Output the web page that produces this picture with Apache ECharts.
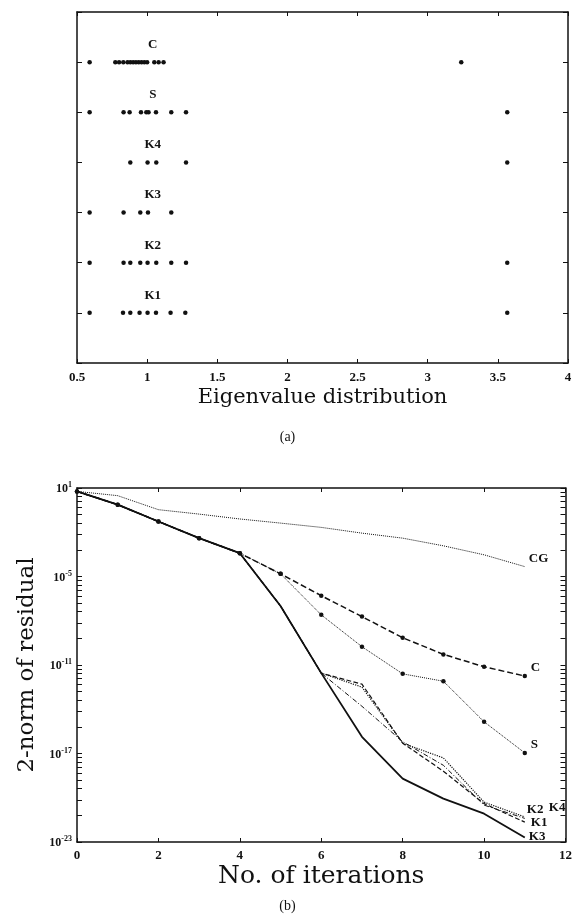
<!DOCTYPE html>
<html>
<head>
<meta charset="utf-8">
<script src="https://cdn.jsdelivr.net/npm/echarts@6/dist/echarts.min.js"></script>
<style>
  html, body { margin: 0; padding: 0; background: #fff; }
  #chartContainer { width: 575px; height: 920px; }
</style>
</head>
<body>
<div id="chartContainer"></div>
<script>
// (a) eigenvalue distribution, one row per preconditioner
const rowNames = ['C', 'S', 'K4', 'K3', 'K2', 'K1'];
const rowPos = [6, 5, 4, 3, 2, 1];
const eigC = [0.59, 0.773, 0.80, 0.83, 0.86, 0.88, 0.90, 0.92, 0.94, 0.96, 0.98, 1.00, 1.051, 1.082, 1.117, 3.239];
const eigS = [0.59, 0.832, 0.875, 0.956, 0.994, 1.01, 1.063, 1.172, 1.277, 3.567];
const eigK4 = [0.88, 1.003, 1.065, 1.277, 3.567];
const eigK3 = [0.59, 0.832, 0.951, 1.006, 1.172];
const eigK2 = [0.59, 0.832, 0.88, 0.951, 1.003, 1.065, 1.172, 1.277, 3.567];
const eigK1 = [0.59, 0.828, 0.88, 0.946, 1.003, 1.063, 1.167, 1.272, 3.567];
const eigXTicks = [0.5, 1, 1.5, 2, 2.5, 3, 3.5, 4];

// (b) log10 of the 2-norm of the residual per iteration
const iterations = [0, 1, 2, 3, 4, 5, 6, 7, 8, 9, 10, 11];
const resCG = [0.77, 0.48, -0.47, -0.77, -1.1, -1.38, -1.67, -2.06, -2.4, -2.92, -3.53, -4.33];
const resC  = [0.77, -0.13, -1.27, -2.4, -3.42, -4.82, -6.3, -7.72, -9.15, -10.28, -11.12, -11.75];
const resS  = [0.77, -0.13, -1.27, -2.4, -3.42, -4.82, -7.6, -9.76, -11.6, -12.1, -14.85, -16.96];
const resK3 = [0.77, -0.13, -1.27, -2.4, -3.42, -7.0, -11.55, -15.87, -18.7, -20.06, -21.08, -22.7];
const resK1 = [0.77, -0.13, -1.27, -2.4, -3.42, -7.0, -11.55, -12.3, -16.3, -18.2, -20.4, -21.65];
const resK2 = [0.77, -0.13, -1.27, -2.4, -3.42, -7.0, -11.55, -12.5, -16.3, -17.3, -20.3, -21.3];
const resK4 = [0.77, -0.13, -1.27, -2.4, -3.42, -7.0, -11.55, -13.8, -16.2, -17.8, -20.5, -21.4];
const resYLabels = [-23, -17, -11, -5, 1];

const ink = '#111';
const serif = 'DejaVu Serif';
const numFont = 'Liberation Serif';

// log ticks in steps of 10^6 (2x..9x within each step)
const resYTicks = [];
resYLabels.forEach((e, i) => {
    resYTicks.push(e);
    if (i < resYLabels.length - 1) {
        for (let k = 2; k <= 9; k++) resYTicks.push(e + 6 * Math.log10(k));
    }
});

const chart = echarts.init(document.getElementById('chartContainer'));

function rowSeries(vals, row) {
    return {
        type: 'scatter',
        xAxisIndex: 0, yAxisIndex: 0,
        symbolSize: 4.5,
        itemStyle: { color: ink, opacity: 1 },
        data: vals.map(v => [v, row]),
        silent: true
    };
}

function resSeries(name, vals, lineType, width, showSym, label, offset) {
    return {
        name,
        type: 'line',
        xAxisIndex: 2, yAxisIndex: 2,
        data: vals.map((v, i) => [iterations[i], v]),
        symbol: 'circle',
        showSymbol: showSym,
        symbolSize: 4.5,
        itemStyle: { color: ink, opacity: 1 },
        lineStyle: { color: ink, width, type: lineType },
        endLabel: label ? {
            show: true, formatter: label, offset: offset || [0, 0], distance: 4,
            color: ink, fontFamily: numFont, fontWeight: 'bold', fontSize: 13
        } : undefined,
        animation: false,
        silent: true
    };
}

const axisLine = { show: true, onZero: false, lineStyle: { color: ink, width: 1.5 } };
const hidden = { show: false };

const option = {
    animation: false,
    grid: [
        { left: 77, top: 12, width: 491, height: 351 },
        { left: 77, top: 488, width: 491, height: 354 }
    ],
    xAxis: [
        {
            gridIndex: 0, type: 'value', min: 0.5, max: 4, interval: 0.5,
            axisLine, splitLine: hidden,
            axisTick: { inside: true, length: 4, lineStyle: { color: ink } },
            axisLabel: {
                margin: 8, color: ink, fontFamily: numFont, fontWeight: 'bold', fontSize: 13,
                customValues: eigXTicks, formatter: v => String(v)
            },
            name: 'Eigenvalue distribution', nameLocation: 'middle', nameGap: 24,
            nameTextStyle: { color: ink, fontFamily: serif, fontSize: 21 }
        },
        {
            gridIndex: 0, type: 'value', position: 'top', min: 0.5, max: 4, interval: 0.5,
            axisLine, splitLine: hidden, axisLabel: hidden,
            axisTick: { inside: true, length: 4, lineStyle: { color: ink } }
        },
        {
            gridIndex: 1, type: 'value', min: 0, max: 12, interval: 2,
            axisLine, splitLine: hidden,
            axisTick: { inside: true, length: 4, lineStyle: { color: ink } },
            axisLabel: { margin: 7, color: ink, fontFamily: numFont, fontWeight: 'bold', fontSize: 13 },
            name: 'No. of iterations', nameLocation: 'middle', nameGap: 22,
            nameTextStyle: { color: ink, fontFamily: serif, fontSize: 25 }
        },
        {
            gridIndex: 1, type: 'value', position: 'top', min: 0, max: 12, interval: 2,
            axisLine, splitLine: hidden, axisLabel: hidden,
            axisTick: { inside: true, length: 4, lineStyle: { color: ink } }
        }
    ],
    yAxis: [
        {
            gridIndex: 0, type: 'value', min: 0, max: 7, interval: 1,
            axisLine, splitLine: hidden, axisLabel: hidden,
            axisTick: { inside: true, length: 5, lineStyle: { color: ink } }
        },
        {
            gridIndex: 0, type: 'value', position: 'right', min: 0, max: 7, interval: 1,
            axisLine, splitLine: hidden, axisLabel: hidden,
            axisTick: { inside: true, length: 5, lineStyle: { color: ink } }
        },
        {
            gridIndex: 1, type: 'value', min: -23, max: 1,
            axisLine, splitLine: hidden,
            axisTick: { inside: true, length: 5, customValues: resYTicks, lineStyle: { color: ink } },
            axisLabel: {
                customValues: resYLabels, margin: 5,
                formatter: v => '{b|10}{s|' + v + '}',
                rich: {
                    b: { color: ink, fontFamily: numFont, fontWeight: 'bold', fontSize: 12, lineHeight: 14, verticalAlign: 'bottom' },
                    s: { color: ink, fontFamily: numFont, fontWeight: 'bold', fontSize: 8, lineHeight: 14, verticalAlign: 'top', padding: [0, 0, 6, 0] }
                }
            },
            name: '2-norm of residual', nameLocation: 'middle', nameGap: 38,
            nameTextStyle: { color: ink, fontFamily: serif, fontSize: 23 }
        },
        {
            gridIndex: 1, type: 'value', position: 'right', min: -23, max: 1,
            axisLine, splitLine: hidden, axisLabel: hidden,
            axisTick: { inside: true, length: 5, customValues: resYTicks, lineStyle: { color: ink } }
        }
    ],
    graphic: [
        { type: 'text', left: 'center', top: 430, style: { text: '(a)', fill: ink, font: '14px "Liberation Serif"' } },
        { type: 'text', left: 'center', top: 899, style: { text: '(b)', fill: ink, font: '14px "Liberation Serif"' } }
    ],
    series: [
        rowSeries(eigC, rowPos[0]),
        rowSeries(eigS, rowPos[1]),
        rowSeries(eigK4, rowPos[2]),
        rowSeries(eigK3, rowPos[3]),
        rowSeries(eigK2, rowPos[4]),
        rowSeries(eigK1, rowPos[5]),
        {
            type: 'scatter', xAxisIndex: 0, yAxisIndex: 0, symbolSize: 0, silent: true,
            itemStyle: { opacity: 1 },
            data: rowNames.map((n, i) => ({ value: [1.04, rowPos[i]], name: n })),
            label: {
                show: true, position: 'top', distance: 11, formatter: p => p.name,
                color: ink, fontFamily: numFont, fontWeight: 'bold', fontSize: 13
            }
        },
        resSeries('K3', resK3, 'solid', 1.8, false, 'K3', [0, -1]),
        resSeries('K1', resK1, 'dashed', 1.2, false, 'K1', [2, 1]),
        resSeries('K2', resK2, 'dotted', 1.2, false, 'K2', [-2, -7]),
        resSeries('K4', resK4, [5, 2, 1, 2], 1, false, 'K4', [20, -11]),
        resSeries('CG', resCG, 'dotted', 1, false, 'CG', [0, -8]),
        resSeries('C', resC, 'dashed', 1.5, true, 'C', [2, -8]),
        resSeries('S', resS, 'dotted', 1, true, 'S', [2, -8])
    ]
};

chart.setOption(option);
</script>
</body>
</html>
